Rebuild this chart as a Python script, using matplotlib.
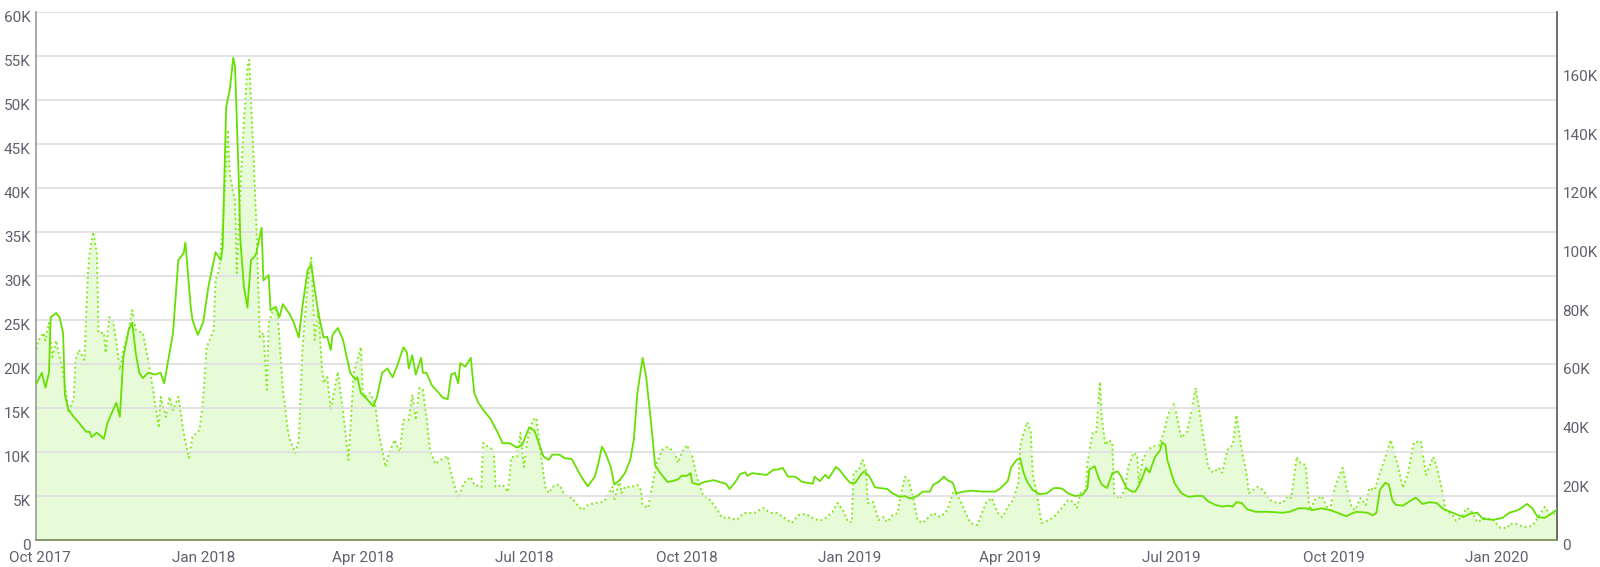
import matplotlib
matplotlib.use("Agg")
import matplotlib.pyplot as plt
import matplotlib.dates as mdates
import matplotlib.transforms as mtrans
import numpy as np
import pandas as pd

plt.rcParams['font.family'] = ['Roboto', 'DejaVu Sans']

START = pd.Timestamp("2017-10-01")

# Solid series (left axis, thousands) - day offsets from START
solid_days = [-2,1,3,5,6,9,11,13,14,16,19,22,26,28,29,32,36,38,43,45,47,50,52,54,56,58,61,65,68,70,
              75,78,81,82,85,86,89,92,95,99,102,103,105,107,109,110,112,113,115,117,119,121,122,125,126,129,130,133,135,137,
              141,143,146,148,151,153,155,157,160,162,164,165,168,171,173,175,178,179,181,184,188,190,193,196,197,199,202,205,207,208,
              210,212,215,216,218,221,225,227,230,232,234,236,237,240,243,245,247,250,254,258,261,265,269,272,276,279,284,
              287,289,293,296,300,304,306,309,313,315,317,319,322,324,327,330,333,335,337,340,342,345,347,350,354,357,360,362,365,367,
              368,371,375,380,385,387,389,392,395,398,399,402,405,410,414,416,419,422,426,430,
              433,436,437,440,443,445,449,451,454,457,460,463,465,468,471,474,478,481,485,488,491,495,498,502,504,507,510,512,515,517,
              521,526,532,539,542,546,548,551,553,555,557,560,564,568,572,575,
              577,580,584,588,591,592,595,597,599,602,605,608,610,613,616,618,621,624,626,629,632,633,635,636,640,644,648,652,656,659,
              663,667,670,673,675,678,681,686,693,701,705,710,714,718,
              723,728,732,737,741,743,749,752,754,756,759,761,763,765,769,772,776,777,780,784,788,792,797,803,807,811,814,820,825,829,
              834,839,842,845,849,854,856]
solid_vals = [17.8,19,17.3,19,25.3,25.8,25.3,23.5,16.5,14.8,14,13.3,12.3,12.3,11.7,12.2,11.5,13.3,15.6,14,
              20.8,23.9,24.7,21.2,19,18.4,19,18.8,19,17.8,23.5,31.8,32.6,33.8,26.5,25,23.3,24.7,28.8,32.7,
              31.8,33.3,49.2,51.1,54.8,53.8,41.7,34.1,28.8,26.4,31.8,32.2,32.6,35.5,29.5,30.1,26.1,26.5,25.3,26.8,
              25.6,24.8,23,26.5,30.7,31.3,28.4,25.8,23,23.1,21.6,23.3,24.1,22.7,20.8,19,18.2,18.5,16.7,16.1,
              15.2,16.2,19,19.5,19.1,18.5,20.1,21.9,21.3,19.5,21,18.8,20.7,19,19,17.6,16.7,16.2,16,18.8,
              19,17.8,20.1,19.7,20.7,16.7,15.7,14.8,13.8,12.3,11,11,10.5,10.8,12.8,12.4,9.5,
              9.1,9.7,9.7,9.3,9.2,7.7,7,6.1,7.2,8.7,10.6,9.9,8.3,6.3,6.8,7.6,9.1,11.4,16.7,20.7,
              18.5,12.8,8.5,7.6,6.6,6.7,6.9,7.3,7.3,7.6,6.5,6.3,6.6,6.8,6.5,6.4,5.8,6.5,7.5,7.7,
              7.3,7.6,7.5,7.4,8,8,8.2,7.2,7.2,6.6,
              6.5,6.4,7.2,6.7,7.4,7,8.3,8,7.2,6.5,6.5,7.4,7.8,7.2,6,5.9,5.8,5.3,4.9,5,
              4.7,5,5.5,5.5,6.3,6.6,7.2,6.8,6.5,5.3,5.5,5.6,5.5,5.5,5.9,6.7,8.3,9.1,9.3,7.6,
              6.6,5.7,5.2,5.3,5.9,5.9,
              5.8,5.3,5,5.1,5.9,8,8.4,7.2,6.3,5.9,7.6,7.8,7.2,5.9,5.5,5.5,6.6,8.2,7.7,9.4,
              10.2,11.1,10.8,9.1,6.5,5.3,4.9,5,5,4.4,4,3.8,3.9,3.8,4.3,4.2,3.5,3.2,3.2,3.1,
              3.2,3.6,3.6,3.4,
              3.6,3.4,3.1,2.7,3.1,3.2,3.1,2.8,3.1,5.7,6.5,6.3,4.5,4,3.9,4.3,4.8,4.7,4.1,4.3,
              4.2,3.5,3.1,2.6,3,3.1,2.4,2.3,2.5,3.1,3.4,4.1,3.6,2.6,2.5,3.2,3.5]

# Dotted / filled series (right axis, thousands)
dotted_days = [-2,-1,2,3,5,7,9,11,13,15,16,19,20,22,25,27,28,30,32,33,
               36,37,39,41,43,45,47,50,52,54,58,61,64,67,68,71,73,75,78,81,
               84,86,90,92,94,98,99,101,103,106,107,109,110,111,113,115,117,118,120,122,
               124,126,128,129,132,134,137,140,
               141,144,146,148,151,153,155,157,159,160,162,164,168,171,174,177,181,182,183,186,
               189,191,195,197,200,203,205,208,210,212,214,216,218,220,223,226,230,231,234,236,
               239,243,245,249,250,253,256,257,261,264,266,269,271,273,275,278,280,282,285,
               287,289,292,293,296,300,304,306,309,313,318,320,323,324,327,328,330,334,337,339,
               340,343,346,348,351,354,358,360,362,365,368,371,374,377,381,385,388,393,397,401,
               403,408,412,416,420,424,428,432,
               436,440,444,447,450,453,456,458,459,462,464,466,467,470,473,476,478,481,484,485,
               488,490,493,495,498,501,504,508,512,515,516,519,522,525,529,531,534,537,540,543,
               546,549,552,553,555,557,559,560,563,565,568,572,
               577,580,583,585,587,590,591,594,596,598,599,601,603,605,606,609,612,614,617,619,
               620,622,625,628,631,634,636,638,640,642,644,647,649,652,653,656,659,662,665,667,
               670,673,675,678,681,682,687,690,694,698,701,704,706,709,711,714,716,
               717,719,723,726,728,729,732,735,737,740,742,745,748,750,753,756,759,762,766,769,
               772,775,779,782,786,788,791,793,797,799,802,805,808,811,815,820,824,828,829,833,
               837,842,846,849,852,855,856]
dotted_vals = [65,68,70.6,68,74,62.4,68,62.4,56.9,48.8,43.3,48.4,61.4,64.8,61.4,91,97.9,105,97.9,70.6,
               70.6,63.8,76,75,67.5,58,64.8,71.6,78.4,71.6,70.6,61.4,50.1,38.2,48.8,41.9,48.8,44.3,48.8,36.5,
               28,35.1,37.5,47.7,65.8,71.6,88.7,92.1,106.7,139.8,125,118.3,116,91,119.4,142.2,161.3,163.7,136.4,108,
               69.2,70.6,51.2,74,79.5,77.4,51.2,36.5,
               34.1,29.7,34.1,64.8,87.6,96.2,68.2,78.4,59,53.5,55.6,44.3,57.3,43.3,27.3,56.9,65.8,51.2,48.8,50.1,
               46.7,36.5,24.9,29.7,34.1,30,40.9,40.9,49.5,40.9,51.8,51.2,41.9,30.7,25.9,27.3,28.6,24.9,18.1,14.3,
               19.4,21.5,18.8,18.1,33.1,31.7,30.7,18.1,18.8,16.4,28.3,28.3,36.5,24.9,34.1,40.9,41.6,31.7,18.1,
               16,18.1,18.8,18.8,15.3,14.3,11.3,10.2,11.9,12.6,13,14.7,18.1,13.6,20.5,16,18.1,18.1,18.8,17,
               11.9,10.9,20.5,26.3,30.7,31.7,30,26.3,29.7,32.4,28.3,20.5,15.3,14.3,11.3,7.5,7.8,6.8,9.2,9.2,
               9.2,10.9,9.2,9.2,7.5,5.8,8.5,8.9,
               7.5,6.5,7.8,9.5,12.6,10.2,6.1,6.1,22.9,23.9,27.3,23.9,12.6,13,6.8,7.8,6.1,8.5,9.2,13.6,
               21.5,20.5,13.6,6.8,5.8,7.5,9.2,7.8,10.2,16,16.4,13.6,9.5,5.8,5.1,8.5,13,14.3,9.5,7.8,
               11.3,13.6,19.4,31.7,36.5,40.2,36.8,22.9,13.6,5.8,6.5,7.8,
               11.3,13.6,13,10.9,16,17,26.3,36.8,36.8,53.9,41.9,32.4,34.1,33.1,16,14,17,24.9,29.7,29,
               19.4,27.3,30.7,32,32,36.5,41.6,45,46.4,40.2,34.8,36.8,41.9,51.8,48.4,36.5,24.9,22.9,24.6,22.9,
               30.7,32.4,42.6,30.7,21.5,16,18.1,17,13.6,12.6,12.6,15,14.3,28.3,26.3,25.6,11.9,
               10.2,13.6,15,11.3,10.2,14.3,20.5,24.6,18.1,11.3,10.2,14.3,11.9,17.7,17,22.9,28,34.1,25.6,17.7,
               23.2,33.1,33.8,22.2,28.3,24.9,17,10.2,8.5,6.5,7.8,10.9,9.5,6.1,7.5,6.8,4.1,4.1,5.5,5.5,
               4.4,4.8,8.5,11.3,8.5,9.2,9.2]

left_ticks = [0, 5, 10, 15, 20, 25, 30, 35, 40, 45, 50, 55, 60]
right_ticks = [0, 20, 40, 60, 80, 100, 120, 140, 160]

solid_dates = START + pd.to_timedelta(solid_days, unit="D")
dotted_dates = START + pd.to_timedelta(dotted_days, unit="D")

TXT = "#5f5f70"
fig = plt.figure(figsize=(16, 5.67), dpi=100)
ax2 = fig.add_axes([36/1600, 1-540/567, (1557-36)/1600, (540-12)/567])
ax = ax2.twinx()
ax.yaxis.set_label_position("left")
ax.yaxis.tick_left()
ax2.yaxis.tick_right()
ax2.yaxis.set_label_position("right")

ax.set_zorder(2)
ax2.set_zorder(1)
ax.patch.set_visible(False)

# Right-axis filled dotted series
ax2.fill_between(dotted_dates, dotted_vals, 0, color="#e8fbd8", lw=0, zorder=1)
ax2.plot(dotted_dates, dotted_vals, color="#80ea1c", lw=1.4, ls=(0, (1, 1.5)), zorder=2)
ax2.set_ylim(0, 180)
ax2.set_yticks(right_ticks)
ax2.set_yticklabels(["0" if v == 0 else f"{v}K" for v in right_ticks])

# Left-axis solid series
ax.plot(solid_dates, solid_vals, color="#66e000", lw=1.3, zorder=3)
ax.set_ylim(0, 60)
ax.set_yticks(left_ticks)
ax.set_yticklabels(["0" if v == 0 else f"{v}K" for v in left_ticks])

xmin = START + pd.Timedelta(days=-2.3)
xmax = START + pd.Timedelta(days=855.9)
ax.set_xlim(xmin, xmax)
ax2.set_xlim(xmin, xmax)

loc = mdates.MonthLocator(bymonth=[1, 4, 7, 10])
ax2.xaxis.set_major_locator(loc)
ax2.xaxis.set_major_formatter(mdates.DateFormatter("%b %Y"))
ax.xaxis.set_major_locator(loc)

ax.grid(axis="y", color="#e0e0e0", lw=1.3, zorder=0)
ax.grid(axis="x", color="#a6a6a6", lw=1.1, zorder=0)
ax2.grid(False)

for a in (ax, ax2):
    a.tick_params(axis="both", length=0, colors=TXT, labelsize=11)
    for s in a.spines.values():
        s.set_visible(False)
ax.tick_params(axis="x", labelbottom=False)
ax2.tick_params(axis="x", pad=8)
ax.tick_params(axis="y", pad=4)
ax2.tick_params(axis="y", pad=4)

ax.spines["left"].set_visible(True)
ax.spines["left"].set_color("#9a9a9a")
ax.spines["left"].set_linewidth(1.2)
ax.spines["right"].set_visible(True)
ax.spines["right"].set_color("#555555")
ax.spines["right"].set_linewidth(1.2)
ax.spines["bottom"].set_visible(True)
ax.spines["bottom"].set_color("#7d9360")
ax.spines["bottom"].set_linewidth(1.3)

# shift y tick labels slightly below their grid lines
offset = mtrans.ScaledTranslation(0, -5/100, fig.dpi_scale_trans)
for lab in ax.get_yticklabels() + ax2.get_yticklabels():
    lab.set_transform(lab.get_transform() + offset)

fig.savefig("out.png", dpi=100, facecolor="white")
